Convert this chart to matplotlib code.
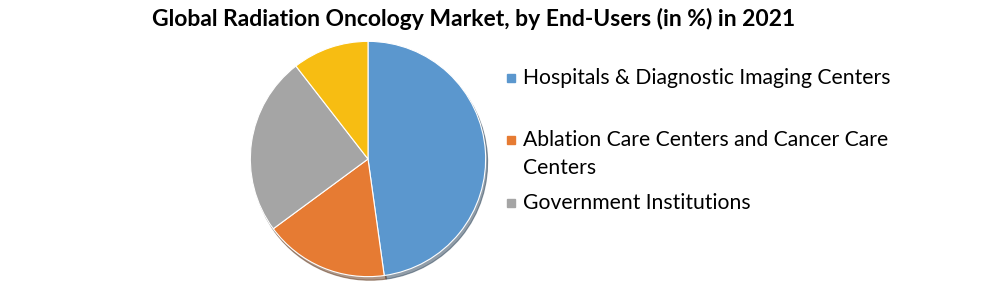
import matplotlib.pyplot as plt
from matplotlib.patches import Rectangle

# market share by end-user, 2021
segments = ["Hospitals & Diagnostic Imaging Centers",
            "Ablation Care Centers and Cancer Care Centers",
            "Government Institutions",
            "Others"]
shares = [47.8, 17.1, 24.6, 10.5]
colors = ["#5B97CE", "#E67B33", "#A5A5A5", "#F7BD12"]

# legend only shows the first three entries (the fourth is cut off)
legend_labels = [["Hospitals & Diagnostic Imaging Centers"],
                 ["Ablation Care Centers and Cancer Care", "Centers"],
                 ["Government Institutions"]]
legend_y = [78, 140, 203]
line_gap = 28

W, H = 1005, 284
fig = plt.figure(figsize=(W / 100, H / 100), dpi=100)

cx, cy, r = 368, 159, 120
ax = fig.add_axes([(cx - r) / W, (H - cy - r) / H, 2 * r / W, 2 * r / H])
ax.pie(shares, colors=colors, startangle=90, counterclock=False, radius=1.0,
       wedgeprops={"edgecolor": "white", "linewidth": 0.8},
       shadow={"ox": 0.012, "oy": -0.022, "shade": 0.6})
ax.set_xlim(-1.02, 1.02)
ax.set_ylim(-1.02, 1.02)
ax.axis("off")

fig.text(474 / W, 1 - 19 / H, "Global Radiation Oncology Market, by End-Users (in %) in 2021",
         ha="center", va="center", fontsize=16.5, fontweight="bold", family="Lato")

for lines, y, c in zip(legend_labels, legend_y, colors):
    fig.patches.append(Rectangle((507 / W, 1 - (y + 4) / H), 8 / W, 8 / H,
                                 transform=fig.transFigure, color=c))
    for i, line in enumerate(lines):
        fig.text(523 / W, 1 - (y + i * line_gap) / H, line, ha="left", va="center",
                 fontsize=15.2, family="Lato")

fig.savefig("out.png", dpi=100)
